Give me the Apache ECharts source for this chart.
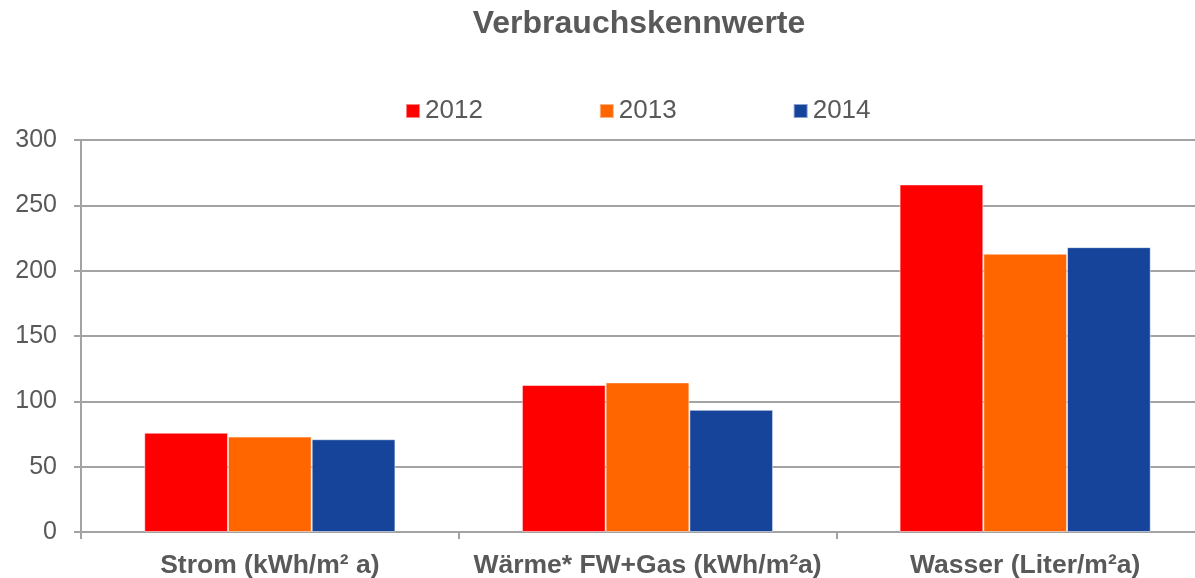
<!DOCTYPE html>
<html>
<head>
<meta charset="utf-8">
<script src="https://cdn.jsdelivr.net/npm/echarts@6/dist/echarts.min.js"></script>
<style>
  html, body { margin: 0; padding: 0; background: #fff; }
  #barChart { width: 1195px; height: 578px; }
</style>
</head>
<body>
<div id="barChart"></div>
<script>
var categories = ['Strom (kWh/m² a)', 'Wärme* FW+Gas (kWh/m²a)', 'Wasser (Liter/m²a)'];
var years = ['2012', '2013', '2014'];
var values2012 = [76, 112.5, 266];
var values2013 = [73, 114.5, 213];
var values2014 = [71, 93.5, 218];
var yTicks = [0, 50, 100, 150, 200, 250, 300];

var colors = ['#ff0000', '#ff6600', '#17449b'];
var textColor = '#595959';
var lineColor = '#a3a3a3';

// init echarts instance
var myChart = echarts.init(document.getElementById('barChart'));

function barSeries(name, data) {
    return {
        name: name,
        type: 'bar',
        data: data,
        barGap: 0,
        barCategoryGap: '33.5%',
        itemStyle: { borderColor: 'rgba(255,255,255,0.5)', borderWidth: 1 }
    };
}

var option = {
    color: colors,
    animation: false,
    textStyle: { fontFamily: 'Liberation Sans, Arial, sans-serif' },
    title: {
        text: 'Verbrauchskennwerte',
        left: 639,
        textAlign: 'center',
        top: 8,
        padding: 0,
        textStyle: { fontSize: 32, fontWeight: 'bold', color: textColor }
    },
    legend: {
        data: years,
        left: 405,
        top: 98,
        padding: 0,
        itemWidth: 14,
        itemHeight: 14,
        itemGap: 116,
        icon: 'rect',
        textStyle: { fontSize: 26, color: textColor }
    },
    grid: { left: 81, top: 140, width: 1133, height: 392, outerBoundsMode: 'none' },
    xAxis: {
        type: 'category',
        data: categories,
        axisLine: { lineStyle: { color: lineColor, width: 2 } },
        axisTick: { show: true, length: 7, lineStyle: { color: lineColor, width: 2 } },
        axisLabel: {
            interval: 0,
            hideOverlap: false,
            fontSize: 26.5,
            fontWeight: 'bold',
            color: textColor,
            margin: 20
        }
    },
    yAxis: {
        type: 'value',
        min: yTicks[0],
        max: yTicks[yTicks.length - 1],
        interval: 50,
        axisLine: { show: true, lineStyle: { color: lineColor, width: 2 } },
        axisTick: { show: true, length: 7, lineStyle: { color: lineColor, width: 2 } },
        splitLine: { lineStyle: { color: lineColor, width: 2 } },
        axisLabel: { fontSize: 25, color: textColor, margin: 24 }
    },
    series: [
        barSeries(years[0], values2012),
        barSeries(years[1], values2013),
        barSeries(years[2], values2014)
    ]
};

myChart.setOption(option);
</script>
</body>
</html>
